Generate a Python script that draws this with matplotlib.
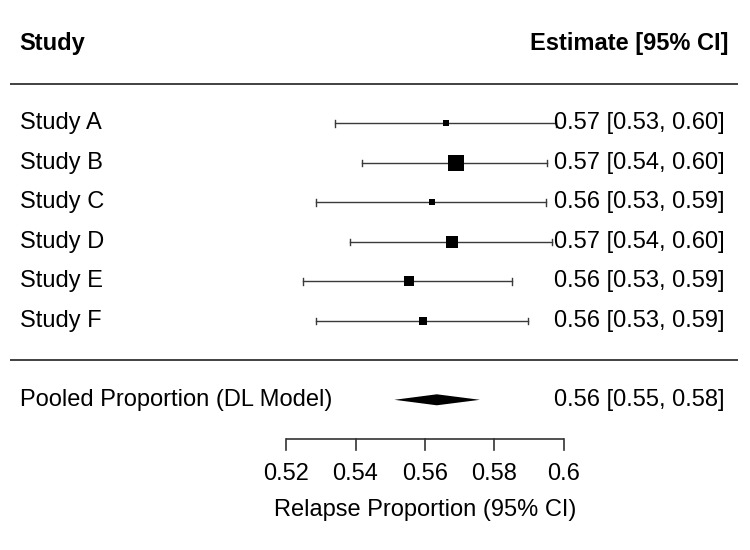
import matplotlib
matplotlib.use("Agg")
import matplotlib.pyplot as plt
from matplotlib.patches import Polygon
from matplotlib.transforms import blended_transform_factory

plt.rcParams['font.family'] = ['Liberation Sans', 'DejaVu Sans']

studies = ["Study A", "Study B", "Study C", "Study D", "Study E", "Study F"]
est = [0.5661, 0.5688, 0.5621, 0.5678, 0.5553, 0.5594]
ci_lo = [0.5341, 0.5418, 0.5287, 0.5385, 0.5250, 0.5287]
ci_hi = [0.5977, 0.5952, 0.5948, 0.5965, 0.5849, 0.5895]
weights = [12.2, 26.7, 9.3, 19.8, 16.3, 15.7]
labels_right = ["0.57 [0.53, 0.60]", "0.57 [0.54, 0.60]", "0.56 [0.53, 0.59]",
                "0.57 [0.54, 0.60]", "0.56 [0.53, 0.59]", "0.56 [0.53, 0.59]"]
pooled_label = "Pooled Proportion (DL Model)"
pooled_est = 0.5634
pooled_lo = 0.5512
pooled_hi = 0.5758
pooled_text = "0.56 [0.55, 0.58]"
ticks = [0.52, 0.54, 0.56, 0.58, 0.60]
tick_labels = ["0.52", "0.54", "0.56", "0.58", "0.6"]
xlabel = "Relapse Proportion (95% CI)"

DPI = 100
fig = plt.figure(figsize=(7.5, 5.5), dpi=DPI)
ax = fig.add_axes([0, 0, 1, 1])
ax.set_axis_off()
# x scale: 0.52 at px 286, 0.60 at px 564
ppu = (564 - 286) / 0.08
ax.set_xlim(0.52 - 286 / ppu, 0.52 + (750 - 286) / ppu)
row_px = 39.5
row0 = 123.3
ax.set_ylim((550 - row0) / row_px, -row0 / row_px)

fs = 17.0
trans = blended_transform_factory(ax.transAxes, ax.transData)
line_col = '#3a3a3a'

# header
ax.text(19 / 750, -2.03, "Study", transform=trans, ha='left', va='center',
        fontsize=fs, fontweight='bold')
ax.text(728 / 750, -2.03, "Estimate [95% CI]", transform=trans, ha='right',
        va='center', fontsize=fs, fontweight='bold')
for yy in (-1, 6):
    ax.plot([10 / 750, 738 / 750], [yy, yy], transform=trans, color='#333333',
            lw=1.3, solid_capstyle='butt')

cap = 3.2 / row_px
for i, name in enumerate(studies):
    y = i
    ax.plot([ci_lo[i], ci_hi[i]], [y, y], color=line_col, lw=1.0)
    for xe in (ci_lo[i], ci_hi[i]):
        ax.plot([xe, xe], [y - cap, y + cap], color=line_col, lw=1.0)
    side_px = weights[i] * 0.572
    ax.plot([est[i]], [y], marker='s', color='black', mec='black', mew=0,
            markersize=side_px * 72 / DPI, linestyle='none', zorder=5)
    ax.text(20 / 750, y, name, transform=trans, ha='left', va='center', fontsize=fs)
    ax.text(725 / 750, y, labels_right[i], transform=trans, ha='right',
            va='center', fontsize=fs)

# pooled
yp = 7
h = 5.5 / row_px
ax.add_patch(Polygon([[pooled_lo, yp], [pooled_est, yp - h], [pooled_hi, yp],
                      [pooled_est, yp + h]], closed=True, color='black', lw=0))
ax.text(20 / 750, yp, pooled_label, transform=trans, ha='left', va='center', fontsize=fs)
ax.text(725 / 750, yp, pooled_text, transform=trans, ha='right', va='center', fontsize=fs)

# axis
ya = 8
tick_len = 11 / row_px
ax.plot([ticks[0], ticks[-1]], [ya, ya], color='#333333', lw=1.2, solid_capstyle='butt')
for t, tl in zip(ticks, tick_labels):
    ax.plot([t, t], [ya, ya + tick_len], color='#333333', lw=1.2)
    ax.text(t, (474 - row0) / row_px, tl, ha='center', va='center', fontsize=fs)
ax.text((ticks[0] + ticks[-1]) / 2, (510 - row0) / row_px, xlabel,
        ha='center', va='center', fontsize=fs)

fig.savefig("out.png", dpi=DPI, facecolor='white')
